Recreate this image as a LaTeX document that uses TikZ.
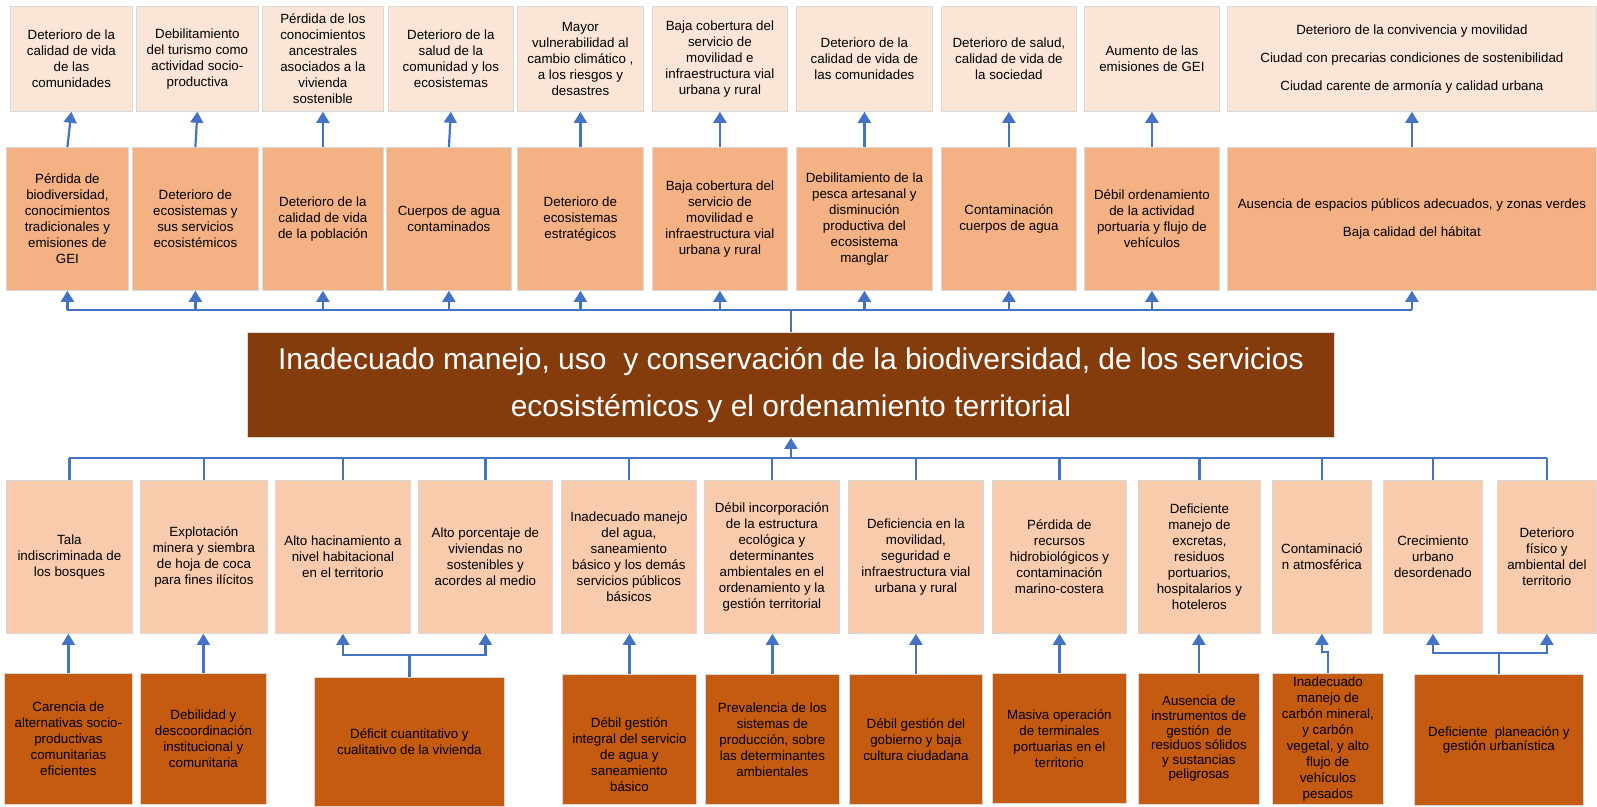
\documentclass[tikz,border=0pt]{standalone}
\usepackage{fontspec}
\setmainfont{Liberation Sans}
\usetikzlibrary{arrows.meta}
\definecolor{efftop}{HTML}{FBE5D6}
\definecolor{effdir}{HTML}{F4B183}
\definecolor{caulight}{HTML}{F8CBAD}
\definecolor{rootdark}{HTML}{C55A11}
\definecolor{corebrown}{HTML}{843C0C}
\definecolor{linkblue}{HTML}{4472C4}
\definecolor{edgegray}{HTML}{D9D9D9}
\tikzstyle{cellbox} = [rectangle, draw=edgegray, line width=0.8pt, anchor=north west, align=center, inner sep=0pt, text=black, font=\fontsize{13.33}{16}\selectfont]
\tikzstyle{effect} = [cellbox, fill=efftop]
\tikzstyle{direct} = [cellbox, fill=effdir]
\tikzstyle{cause} = [cellbox, fill=caulight]
\tikzstyle{rootcause} = [cellbox, fill=rootdark]
\tikzstyle{problem} = [cellbox, fill=corebrown, text=white, font=\fontsize{30}{47}\selectfont]
\tikzstyle{wire} = [draw=linkblue, line width=2.2pt]
\tikzstyle{line} = [wire, -{Triangle[width=13pt,length=11pt]}]
\tikzset{wh/.style 2 args={minimum width=#1pt, minimum height=#2pt}}
\begin{document}
\begin{tikzpicture}[x=1pt, y=-1pt]
    \useasboundingbox (0,0) rectangle (1597,806);
    % Indirect effects
    \node [effect, wh={122}{105}] (eff1) at (10,6) {Deterioro de la\\calidad de vida\\de las\\comunidades};
    \node [effect, wh={122}{105}] (eff2) at (136,6) {Debilitamiento\\del turismo como\\actividad socio-\\productiva};
    \node [effect, wh={121}{105}] (eff3) at (262,6) {Pérdida de los\\conocimientos\\ancestrales\\asociados a la\\vivienda\\sostenible};
    \node [effect, wh={125}{105}] (eff4) at (388,6) {Deterioro de la\\salud de la\\comunidad y los\\ecosistemas};
    \node [effect, wh={126}{105}] (eff5) at (517,6) {Mayor\\vulnerabilidad al\\cambio climático ,\\a los riesgos y\\desastres};
    \node [effect, wh={135}{105}] (eff6) at (652,6) {Baja cobertura del\\servicio de\\movilidad e\\infraestructura vial\\urbana y rural};
    \node [effect, wh={136}{105}] (eff7) at (796,6) {Deterioro de la\\calidad de vida de\\las comunidades};
    \node [effect, wh={135}{105}] (eff8) at (941,6) {Deterioro de salud,\\calidad de vida de\\la sociedad};
    \node [effect, wh={135}{105}] (eff9) at (1084,6) {Aumento de las\\emisiones de GEI};
    \node [effect, wh={369}{105}] (eff10) at (1227,6) {Deterioro de la convivencia y movilidad\\[12pt]Ciudad con precarias condiciones de sostenibilidad\\[12pt]Ciudad carente de armonía y calidad urbana};
    % Direct effects
    \node [direct, wh={122}{143}] (dir1) at (6,147) {Pérdida de\\biodiversidad,\\conocimientos\\tradicionales y\\emisiones de\\GEI};
    \node [direct, wh={126}{143}] (dir2) at (132,147) {Deterioro de\\ecosistemas y\\sus servicios\\ecosistémicos};
    \node [direct, wh={121}{143}] (dir3) at (262,147) {Deterioro de la\\calidad de vida\\de la población};
    \node [direct, wh={125}{143}] (dir4) at (386,147) {Cuerpos de agua\\contaminados};
    \node [direct, wh={126}{143}] (dir5) at (517,147) {Deterioro de\\ecosistemas\\estratégicos};
    \node [direct, wh={135}{143}] (dir6) at (652,147) {Baja cobertura del\\servicio de\\movilidad e\\infraestructura vial\\urbana y rural};
    \node [direct, wh={136}{143}] (dir7) at (796,147) {Debilitamiento de la\\pesca artesanal y\\disminución\\productiva del\\ecosistema\\manglar};
    \node [direct, wh={135}{143}] (dir8) at (941,147) {Contaminación\\cuerpos de agua};
    \node [direct, wh={135}{143}] (dir9) at (1084,147) {Débil ordenamiento\\de la actividad\\portuaria y flujo de\\vehículos};
    \node [direct, wh={369}{143}] (dir10) at (1227,147) {Ausencia de espacios públicos adecuados, y zonas verdes\\[12pt]Baja calidad del hábitat};
    % Central problem
    \node [problem, wh={1087}{105}] (core) at (247,332) {Inadecuado manejo, uso\ \ y conservación de la biodiversidad, de los servicios\\ecosistémicos y el ordenamiento territorial};
    % Direct causes
    \node [cause, wh={126}{153}] (cau1) at (6,480) {Tala\\indiscriminada de\\los bosques};
    \node [cause, wh={127}{153}] (cau2) at (140,480) {Explotación\\minera y siembra\\de hoja de coca\\para fines ilícitos};
    \node [cause, wh={135}{153}] (cau3) at (275,480) {Alto hacinamiento a\\nivel habitacional\\en el territorio};
    \node [cause, wh={134}{153}] (cau4) at (418,480) {Alto porcentaje de\\viviendas no\\sostenibles y\\acordes al medio};
    \node [cause, wh={135}{153}] (cau5) at (561,480) {Inadecuado manejo\\del agua,\\saneamiento\\básico y los demás\\servicios públicos\\básicos};
    \node [cause, wh={135}{153}] (cau6) at (704,480) {Débil incorporación\\de la estructura\\ecológica y\\determinantes\\ambientales en el\\ordenamiento y la\\gestión territorial};
    \node [cause, wh={135}{153}] (cau7) at (848,480) {Deficiencia en la\\movilidad,\\seguridad e\\infraestructura vial\\urbana y rural};
    \node [cause, wh={134}{153}] (cau8) at (992,480) {Pérdida de\\recursos\\hidrobiológicos y\\contaminación\\marino-costera};
    \node [cause, wh={122}{153}] (cau9) at (1138,480) {Deficiente\\manejo de\\excretas,\\residuos\\portuarios,\\hospitalarios y\\hoteleros};
    \node [cause, wh={99}{153}] (cau10) at (1272,480) {Contaminació\\n atmosférica};
    \node [cause, wh={99}{153}] (cau11) at (1383,480) {Crecimiento\\urbano\\desordenado};
    \node [cause, wh={99}{153}] (cau12) at (1497,480) {Deterioro\\físico y\\ambiental del\\territorio};
    % Root causes
    \node [rootcause, wh={128}{131}] (root1) at (4,673) {Carencia de\\alternativas socio-\\productivas\\comunitarias\\eficientes};
    \node [rootcause, wh={126}{131}] (root2) at (140,673) {Debilidad y\\descoordinación\\institucional y\\comunitaria};
    \node [rootcause, wh={190}{129}] (root3) at (314,677) {Déficit cuantitativo y\\cualitativo de la vivienda};
    \node [rootcause, wh={134}{130}] (root4) at (562,674) {\rule{0pt}{40pt}Débil gestión\\integral del servicio\\de agua y\\saneamiento\\básico};
    \node [rootcause, wh={134}{130}] (root5) at (705,674) {Prevalencia de los\\sistemas de\\producción, sobre\\las determinantes\\ambientales};
    \node [rootcause, wh={133}{130}] (root6) at (849,674) {Débil gestión del\\gobierno y baja\\cultura ciudadana};
    \node [rootcause, wh={134}{130}] (root7) at (992,673) {Masiva operación\\de terminales\\portuarias en el\\territorio};
    \node [rootcause, wh={121}{131}, font=\fontsize{13.33}{14.6}\selectfont] (root8) at (1138,673) {Ausencia de\\instrumentos de\\gestión\ \ de\\residuos sólidos\\y sustancias\\peligrosas};
    \node [rootcause, wh={111}{131}] (root9) at (1272,673) {Inadecuado\\manejo de\\carbón mineral,\\y carbón\\vegetal, y alto\\flujo de\\vehículos\\pesados};
    \node [rootcause, wh={169}{131}, font=\fontsize{13.33}{14}\selectfont] (root10) at (1414,674) {Deficiente\ \ planeación y\\gestión urbanística};
    % Effects side edges
    \coordinate (topbus) at (790,310);
    \path [wire] (core.north) -- (core.north |- topbus);
    \path [wire] (dir1.south |- topbus) -- (dir10.south |- topbus);
    \foreach \i in {1,...,10} {
        \path [line] (dir\i.south |- topbus) -- (dir\i.south);
        \path [line] (dir\i.north) -- (eff\i.south);
    }
    % Causes side edges
    \coordinate (lowbus) at (790,458);
    \path [line] (core.south |- lowbus) -- (core.south);
    \path [wire] (cau1.north |- lowbus) -- (cau12.north |- lowbus);
    \foreach \i in {1,...,12}
        \path [wire] (cau\i.north |- lowbus) -- (cau\i.north);
    \path [line] (root1.north) -- (root1.north |- cau1.south);
    \path [line] (root2.north) -- (root2.north |- cau2.south);
    \path [line] (root3.north) -- ++(0,-22) -| (cau3.south);
    \path [line] (root3.north) -- ++(0,-22) -| (cau4.south);
    \path [line] (root4.north) -- (root4.north |- cau5.south);
    \path [line] (root5.north) -- (root5.north |- cau6.south);
    \path [line] (root6.north) -- (root6.north |- cau7.south);
    \path [line] (root7.north) -- (root7.north |- cau8.south);
    \path [line] (root8.north) -- (root8.north |- cau9.south);
    \path [line] (root9.north) -- ++(0,-21) -| (cau10.south);
    \path [line] (root10.north) -- ++(0,-21) -| (cau11.south);
    \path [line] (root10.north) -- ++(0,-21) -| (cau12.south);
\end{tikzpicture}
\end{document}
